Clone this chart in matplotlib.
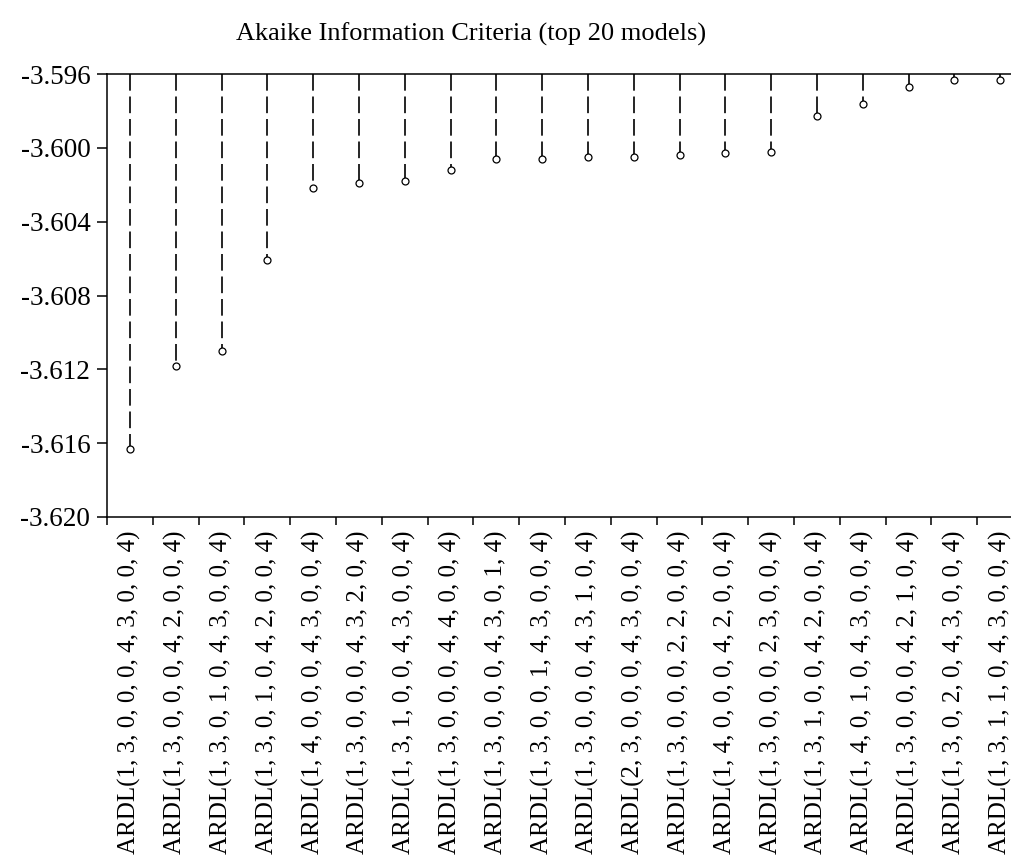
import numpy as np
import matplotlib
matplotlib.use('Agg')
import matplotlib.pyplot as plt

# model names (top 20 by AIC)
models = [
    'ARDL(1, 3, 0, 0, 0, 4, 3, 0, 0, 4)',
    'ARDL(1, 3, 0, 0, 0, 4, 2, 0, 0, 4)',
    'ARDL(1, 3, 0, 1, 0, 4, 3, 0, 0, 4)',
    'ARDL(1, 3, 0, 1, 0, 4, 2, 0, 0, 4)',
    'ARDL(1, 4, 0, 0, 0, 4, 3, 0, 0, 4)',
    'ARDL(1, 3, 0, 0, 0, 4, 3, 2, 0, 4)',
    'ARDL(1, 3, 1, 0, 0, 4, 3, 0, 0, 4)',
    'ARDL(1, 3, 0, 0, 0, 4, 4, 0, 0, 4)',
    'ARDL(1, 3, 0, 0, 0, 4, 3, 0, 1, 4)',
    'ARDL(1, 3, 0, 0, 1, 4, 3, 0, 0, 4)',
    'ARDL(1, 3, 0, 0, 0, 4, 3, 1, 0, 4)',
    'ARDL(2, 3, 0, 0, 0, 4, 3, 0, 0, 4)',
    'ARDL(1, 3, 0, 0, 0, 2, 2, 0, 0, 4)',
    'ARDL(1, 4, 0, 0, 0, 4, 2, 0, 0, 4)',
    'ARDL(1, 3, 0, 0, 0, 2, 3, 0, 0, 4)',
    'ARDL(1, 3, 1, 0, 0, 4, 2, 0, 0, 4)',
    'ARDL(1, 4, 0, 1, 0, 4, 3, 0, 0, 4)',
    'ARDL(1, 3, 0, 0, 0, 4, 2, 1, 0, 4)',
    'ARDL(1, 3, 0, 2, 0, 4, 3, 0, 0, 4)',
    'ARDL(1, 3, 1, 1, 0, 4, 3, 0, 0, 4)',
]
aic = [-3.6163, -3.6118, -3.6110, -3.6061, -3.6022, -3.6019, -3.6018,
       -3.6012, -3.6006, -3.6006, -3.6005, -3.6005, -3.6004, -3.6003,
       -3.6002, -3.5983, -3.5976, -3.5967, -3.5963, -3.5963]
y_ticks = [-3.620, -3.616, -3.612, -3.608, -3.604, -3.600, -3.596]
y_top = -3.596
y_bottom = -3.620

plt.rcParams['font.family'] = ['Liberation Serif', 'DejaVu Serif']

fig = plt.figure(figsize=(10.11, 8.56), dpi=100)
ax = fig.add_axes([107/1011, 1 - 517/856, 916/1011, 443/856])

x = np.arange(len(models))
# stems hang from the top of the axis down to each value
for xi, v in zip(x, aic):
    ax.plot([xi, xi], [y_top, v], color='black', lw=1.2,
            linestyle=(0, (10, 3.5)), solid_capstyle='butt')
ax.plot(x, aic, 'o', ms=5, mfc='white', mec='black', mew=0.9, zorder=3)

ax.set_xlim(-0.5, len(models) - 0.5)
ax.set_ylim(y_bottom, y_top)

ax.set_yticks(y_ticks)
ax.set_yticklabels([f'{t:.3f}' for t in y_ticks], fontsize=19.5)
ax.tick_params(axis='y', direction='out', length=7, width=1.1, pad=5)

ax.set_xticks(x)
ax.set_xticklabels(models, rotation=90, fontsize=18, va='top')
ax.set_xticks(np.arange(-0.5, len(models), 1), minor=True)
ax.tick_params(axis='x', which='major', length=0, pad=10)
ax.tick_params(axis='x', which='minor', direction='out', length=6, width=1.1)

for side in ['left', 'bottom', 'top']:
    ax.spines[side].set_linewidth(1.1)
ax.spines['right'].set_visible(False)

fig.text(471/1011, 1 - 34/856, 'Akaike Information Criteria (top 20 models)',
         ha='center', va='center', fontsize=19)

fig.savefig('out.png', dpi=100)
